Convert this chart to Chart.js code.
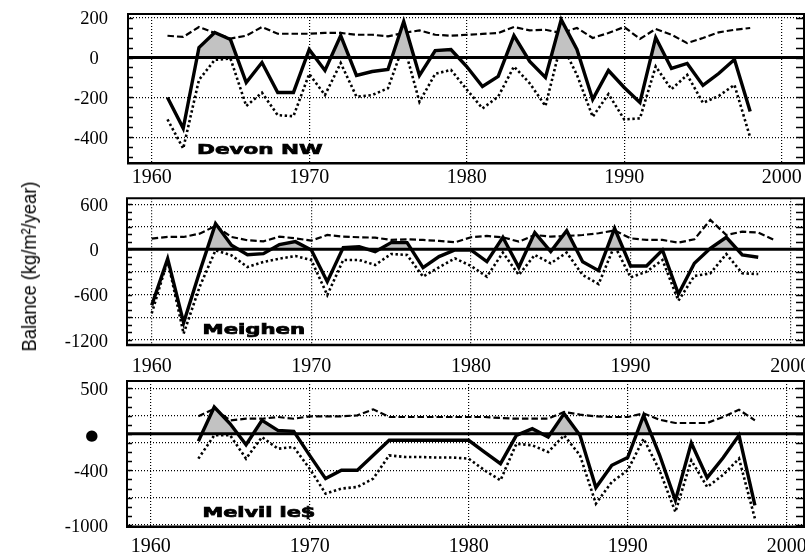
<!DOCTYPE html>
<html><head><meta charset="utf-8">
<script src="https://cdn.jsdelivr.net/npm/chart.js@4"></script>
<style>
html,body{margin:0;padding:0;background:#fff;width:805px;height:560px;overflow:hidden;position:relative;}
canvas{position:absolute;left:0;}
.lbl{position:absolute;font-family:'DejaVu Sans',sans-serif;font-weight:bold;font-size:14px;white-space:nowrap;color:#000;line-height:1;transform-origin:center center;-webkit-text-stroke:0.7px #000;}
#ytitle{position:absolute;font-family:'Liberation Sans Narrow','Liberation Sans',sans-serif;font-size:21px;white-space:nowrap;line-height:1;color:#000;transform-origin:center center;}
</style></head><body>
<canvas id="c1" width="805" height="195" style="top:0px"></canvas>
<canvas id="c2" width="805" height="200" style="top:185px"></canvas>
<canvas id="c3" width="805" height="190" style="top:370px"></canvas>
<div id="ytitle">Balance (kg/m²/year)</div>
<div class="lbl" id="l1">Devon NW</div>
<div class="lbl" id="l2">Meighen</div>
<div class="lbl" id="l3">Melvil le$</div>
<script>
// ---------- DATA ----------
const xTickYears = [1960, 1970, 1980, 1990, 2000];

// Devon NW (1961-1998)
const devonStart = 1961;
const devonNet    = [-200,-355,50,125,90,-125,-25,-175,-175,40,-65,110,-90,-70,-60,180,-90,35,40,-45,-145,-95,110,-20,-100,190,40,-210,-65,-150,-225,100,-55,-30,-140,-80,-10,-270];
const devonWinter = [109,103,153,123,95,109,153,119,119,119,123,123,114,114,106,123,136,114,109,114,118,123,153,136,139,123,148,98,123,153,93,143,114,72,98,126,139,148];
const devonSummer = [-310,-456,-112,-12,-5,-243,-176,-289,-294,-82,-188,-28,-196,-188,-154,65,-222,-82,-62,-160,-255,-196,-45,-129,-243,72,-87,-297,-183,-310,-305,-45,-159,-87,-227,-193,-137,-401];
const devonTickValues = [200, 0, -200, -400];
const devonTickLabels = ['200', '0\u2007', '-200', '-400'];
const devonGridValues = [200, -200, -400];

// Meighen (1960-1998, winter to 1999)
const meighenStart = 1960;
const meighenNet    = [-744,-124,-975,-300,341,53,-71,-58,62,102,-9,-430,22,35,-31,89,89,-244,-97,-9,-9,-164,160,-239,222,-31,248,-164,-283,279,-221,-221,-9,-594,-186,13,160,-75,-106];
const meighenWinter = [142,164,164,208,310,164,120,106,168,146,115,190,168,160,155,124,133,124,111,93,160,177,160,102,190,168,177,190,213,250,146,124,124,89,133,390,190,235,222,124];
const meighenSummer = [-851,-150,-1120,-500,-13,-80,-235,-168,-124,-89,-142,-607,-142,-142,-208,-62,-75,-363,-239,-120,-220,-363,-44,-341,-75,-186,-44,-341,-461,50,-372,-297,-142,-682,-354,-319,-62,-319,-328];
const meighenTickValues = [600, 0, -600, -1200];
const meighenTickLabels = ['600', '0\u2007', '-600', '-1200'];
const meighenGridValues = [600, 300, -300, -600, -900, -1200];

// Melvilles (1963-1998)
const melvilleStart = 1963;
const melvilleNet    = [-82,294,111,-119,148,38,27,-236,-491,-400,-400,-236,-71,-71,-71,-71,-71,-71,-200,-327,-16,57,-35,222,-16,-590,-345,-261,203,-230,-730,-100,-481,-263,-16,-784];
const melvilleWinter = [192,276,148,166,166,185,166,192,192,192,203,269,185,185,185,185,185,185,185,174,166,166,166,240,211,192,185,185,225,155,119,119,119,185,265,148];
const melvilleSummer = [-272,-16,-16,-272,-35,-163,-145,-382,-656,-601,-583,-491,-236,-254,-254,-260,-260,-272,-400,-510,-108,-126,-199,-16,-236,-766,-528,-400,-53,-400,-857,-291,-583,-450,-272,-930];
const melvilleTickValues = [500, 0, -400, -1000];
const melvilleTickLabels = ['500', '\u25CF\u2007', '-400', '-1000'];
const melvilleGridValues = [500, 200, -100, -400, -700, -1000];

// ---------- HELPERS ----------
function pts(start, vals) { return vals.map((v, i) => ({x: start + i, y: v})); }

const framePlugin = {
  id: 'frame',
  afterDraw(chart, args, opts) {
    const {ctx, chartArea: a} = chart;
    const y = chart.scales.y;
    ctx.save();
    ctx.setLineDash([]);
    ctx.strokeStyle = '#000';
    const z = y.getPixelForValue(0);
    ctx.lineWidth = 3;
    ctx.beginPath(); ctx.moveTo(a.left, z); ctx.lineTo(a.right, z); ctx.stroke();
    ctx.lineWidth = 1.6;
    const step = opts.minor;
    for (let v = Math.ceil(y.min / step) * step; v <= y.max; v += step) {
      const p = Math.round(y.getPixelForValue(v)) + 0.5;
      ctx.beginPath();
      ctx.moveTo(a.left, p); ctx.lineTo(a.left + 6, p);
      ctx.moveTo(a.right - 9, p); ctx.lineTo(a.right, p);
      ctx.stroke();
    }
    ctx.lineWidth = 2;
    ctx.beginPath();
    ctx.moveTo(a.left, a.top); ctx.lineTo(a.right, a.top);
    ctx.moveTo(a.left + 1, a.top); ctx.lineTo(a.left + 1, a.bottom);
    ctx.moveTo(a.right - 1, a.top); ctx.lineTo(a.right - 1, a.bottom);
    ctx.stroke();
    ctx.lineWidth = 2.6;
    ctx.beginPath(); ctx.moveTo(a.left, a.bottom); ctx.lineTo(a.right, a.bottom); ctx.stroke();
    ctx.restore();
  }
};

function makePanel(id, p) {
  new Chart(document.getElementById(id), {
    type: 'line',
    data: {
      datasets: [
        { data: pts(p.start, p.net), borderColor: '#000', borderWidth: 3.4, pointRadius: 0, tension: 0,
          fill: { target: { value: 0 }, above: '#c2c2c2', below: 'rgba(0,0,0,0)' } },
        { data: pts(p.start, p.winter), borderColor: '#000', borderWidth: 2.2, borderDash: [6.5, 3], pointRadius: 0, tension: 0, fill: false },
        { data: pts(p.start, p.summer), borderColor: '#000', borderWidth: 2.6, borderDash: [2.4, 2.6], pointRadius: 0, tension: 0, fill: false }
      ]
    },
    options: {
      responsive: false, animation: false, events: [],
      layout: { padding: { top: p.top, left: 0, right: 0, bottom: 0 } },
      plugins: { legend: { display: false }, tooltip: { enabled: false }, frame: { minor: p.minor } },
      scales: {
        x: {
          type: 'linear', min: p.xMin, max: p.xMax,
          afterBuildTicks: s => { s.ticks = xTickYears.map(v => ({value: v})); },
          afterFit: s => { s.height = p.xh; s.paddingLeft = 0; s.paddingRight = 0; },
          grid: { color: '#000', lineWidth: 1.2, drawTicks: false, tickLength: 0 },
          border: { display: false, dash: [1, 2] },
          ticks: { autoSkip: false, maxRotation: 0, padding: p.xpad, color: '#000',
                   font: { family: 'Liberation Serif', size: 20 }, callback: v => String(v) }
        },
        y: {
          type: 'linear', min: p.yMin, max: p.yMax,
          afterBuildTicks: s => {
            const all = Array.from(new Set(p.gridVals.concat(p.tickVals))).sort((a, b) => a - b);
            s.ticks = all.map(v => ({value: v}));
          },
          afterFit: s => { s.width = p.left; s.paddingTop = 0; s.paddingBottom = 0; },
          grid: { color: c => (c.tick && p.gridVals.includes(c.tick.value)) ? '#000' : 'rgba(0,0,0,0)',
                  lineWidth: 1.2, drawTicks: false, tickLength: 0 },
          border: { display: false, dash: [1, 2] },
          ticks: { autoSkip: false, crossAlign: 'near', padding: p.ypad, labelOffset: p.yoff, color: '#000',
                   font: c => {
                     const lab = c.tick ? p.tickLabels[p.tickVals.indexOf(c.tick.value)] : '';
                     return (lab && lab.charAt(0) === '\u25CF') ? { family: 'DejaVu Sans', size: 15 } : { family: 'Liberation Serif', size: 18.5 };
                   },
                   callback: v => { const i = p.tickVals.indexOf(v); return i >= 0 ? p.tickLabels[i] : ''; } }
        }
      }
    },
    plugins: [framePlugin]
  });
}

makePanel('c1', { start: devonStart, net: devonNet, winter: devonWinter, summer: devonSummer,
  xMin: 1958.43, xMax: 2001.48, yMin: -530, yMax: 218, top: 14, xh: 31.7, xpad: 2, left: 127, ypad: 19, yoff: 2,
  tickVals: devonTickValues, tickLabels: devonTickLabels, gridVals: devonGridValues, minor: 50 });

makePanel('c2', { start: meighenStart, net: meighenNet, winter: meighenWinter, summer: meighenSummer,
  xMin: 1958.39, xMax: 2000.93, yMin: -1270, yMax: 677, top: 13.3, xh: 40, xpad: 10, left: 126, ypad: 18, yoff: 2,
  tickVals: meighenTickValues, tickLabels: meighenTickLabels, gridVals: meighenGridValues, minor: 100 });

makePanel('c3', { start: melvilleStart, net: melvilleNet, winter: melvilleWinter, summer: melvilleSummer,
  xMin: 1958.45, xMax: 2001.15, yMin: -1019, yMax: 580, top: 11, xh: 33.3, xpad: 8, left: 126, ypad: 18, yoff: 2,
  tickVals: melvilleTickValues, tickLabels: melvilleTickLabels, gridVals: melvilleGridValues, minor: 100 });

// ---------- text placement ----------
function place(id, cx, cy, targetW, rot) {
  const el = document.getElementById(id);
  const w = el.offsetWidth, h = el.offsetHeight;
  el.style.left = (cx - w / 2) + 'px';
  el.style.top = (cy - h / 2) + 'px';
  const k = targetW / w;
  el.style.transform = (rot ? 'rotate(-90deg) ' : '') + 'scaleX(' + k + ')';
}
place('l1', 260, 148.5, 126, false);
place('l2', 253.5, 328.5, 103, false);
place('l3', 258.5, 511.5, 113, false);
place('ytitle', 28, 266, 170, true);
</script>
</body></html>
